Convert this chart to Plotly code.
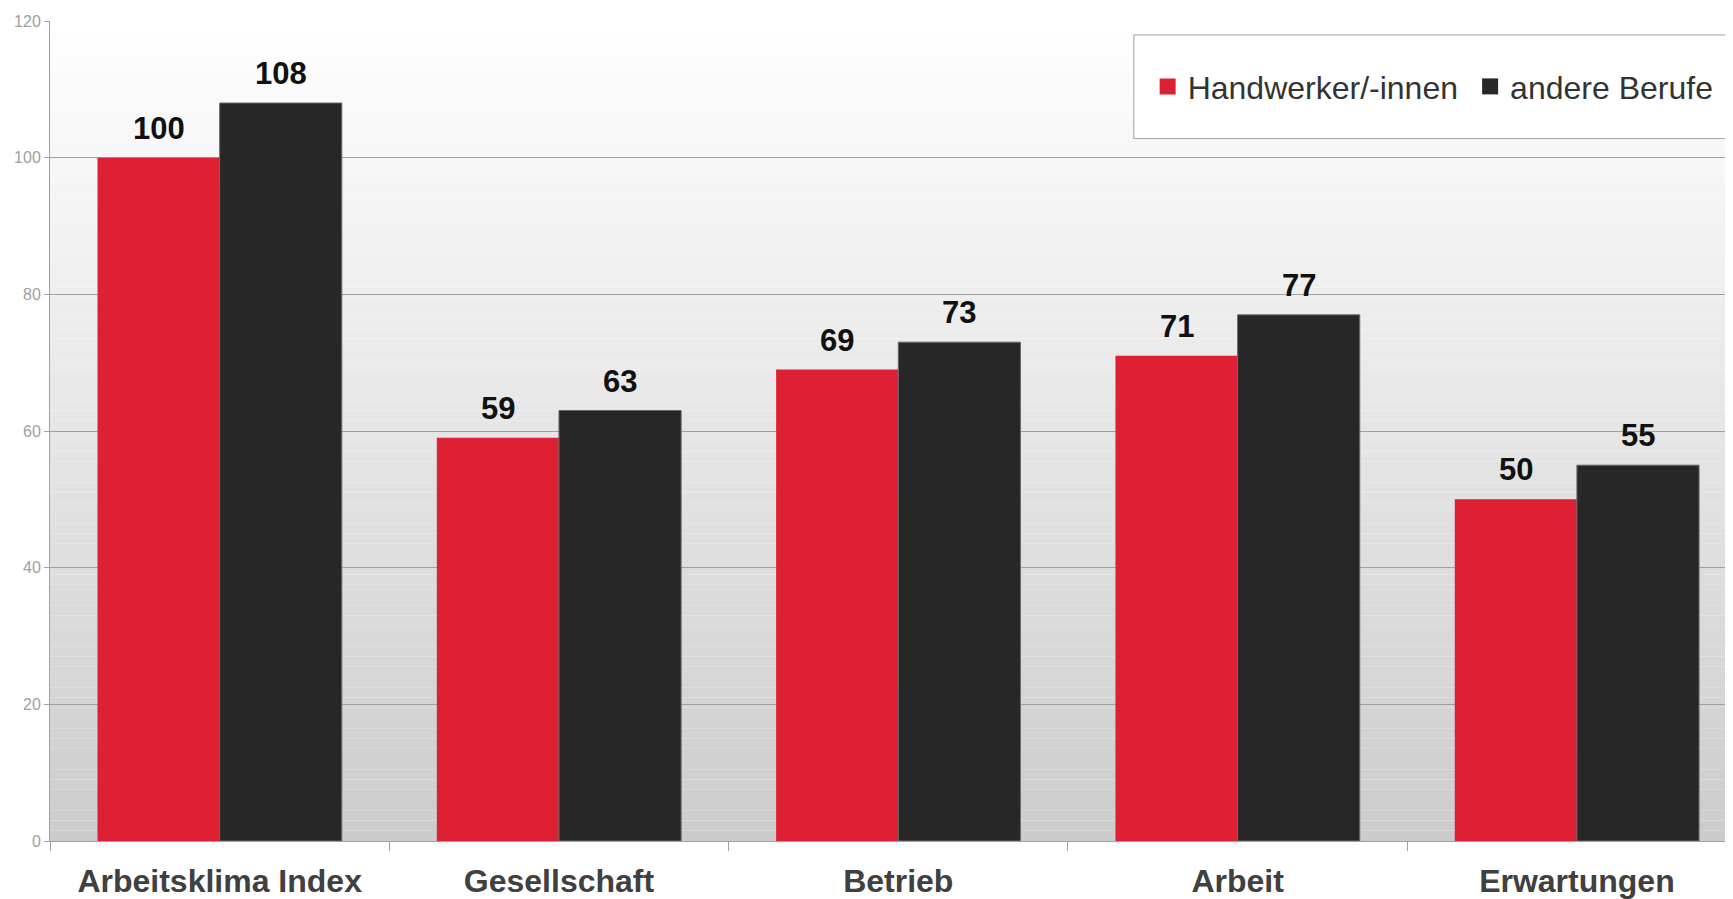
import plotly.graph_objects as go

categories = ["Arbeitsklima Index", "Gesellschaft", "Betrieb", "Arbeit", "Erwartungen"]
handwerker = [100, 59, 69, 71, 50]
andere = [108, 63, 73, 77, 55]
series_names = ["Handwerker/-innen", "andere Berufe"]
y_ticks = [0, 20, 40, 60, 80, 100, 120]

RED = "#de2034"
BLACK = "#272727"
FONT = "Liberation Sans, Arial, sans-serif"

fig = go.Figure()
fig.add_trace(go.Bar(name=series_names[0], x=categories, y=handwerker, showlegend=False,
                     marker=dict(color=RED, line=dict(width=0)), offsetgroup="a"))
fig.add_trace(go.Bar(name=series_names[1], x=categories, y=andere, showlegend=False,
                     marker=dict(color=BLACK, line=dict(width=1, color="#6a6a6a")), offsetgroup="b"))

# legend entries (one legend per series so each can be placed like the original)
for name, col, lg in [(series_names[0], RED, "legend"), (series_names[1], BLACK, "legend2")]:
    fig.add_trace(go.Scatter(x=[None], y=[None], mode="markers", name=name, legend=lg,
                             marker=dict(symbol="square", size=16, color=col), hoverinfo="skip"))

# data labels
bar_half_px = 61
for vals, shift in [(handwerker, -bar_half_px), (andere, bar_half_px)]:
    for c, v in zip(categories, vals):
        fig.add_annotation(x=c, y=v, text=f"<b>{v}</b>", showarrow=False,
                           xshift=shift, yshift=10, yanchor="bottom",
                           font=dict(family=FONT, size=31, color="#111111"))

# gradient background
n = 80
top, bottom = 255, 204
for i in range(n):
    y0 = 120 * i / n
    y1 = 120 * (i + 1) / n
    t = (y0 + y1) / 2 / 120
    c = round(bottom + (top - bottom) * t)
    fig.add_shape(type="rect", xref="paper", yref="y", x0=0, x1=1, y0=y0, y1=y1,
                  fillcolor=f"rgb({c},{c},{c})", line=dict(width=0), layer="below")

# legend box
fig.add_shape(type="rect", xref="paper", yref="paper", x0=0.644, x1=0.9976, y0=0.8566, y1=0.983,
              fillcolor="white", line=dict(color="#a0a0a0", width=1), layer="above")

legend_common = dict(orientation="h", y=0.92, yanchor="middle", xanchor="left",
                     bgcolor="rgba(0,0,0,0)", borderwidth=0,
                     font=dict(family=FONT, size=32, color="#333333"))

fig.update_layout(
    width=1725, height=891,
    margin=dict(l=42, r=0, t=13, b=55),
    paper_bgcolor="white", plot_bgcolor="white",
    barmode="group", bargap=0.28, bargroupgap=0,
    font=dict(family=FONT),
    showlegend=True,
    legend=dict(x=0.6522, **legend_common),
    legend2=dict(x=0.8438, **legend_common),
)
fig.update_xaxes(range=[-0.5, 4.46], showgrid=False, showline=True, linecolor="#a0a0a0", linewidth=1,
                 ticks="outside", tickson="boundaries", ticklen=9, tickcolor="#a0a0a0",
                 tickfont=dict(family=FONT, size=32, color="#404040"),
                 tickprefix="<b>", ticksuffix="</b>", ticklabelstandoff=12)
fig.update_yaxes(range=[0, 120], tickvals=y_ticks, showgrid=True, gridcolor="#a0a0a0", gridwidth=1,
                 showline=True, linecolor="#a0a0a0", linewidth=1, zeroline=False,
                 ticks="outside", ticklen=5, tickcolor="#a0a0a0",
                 tickfont=dict(family=FONT, size=16, color="#a0a0a0"))

fig.write_html("out.html")
